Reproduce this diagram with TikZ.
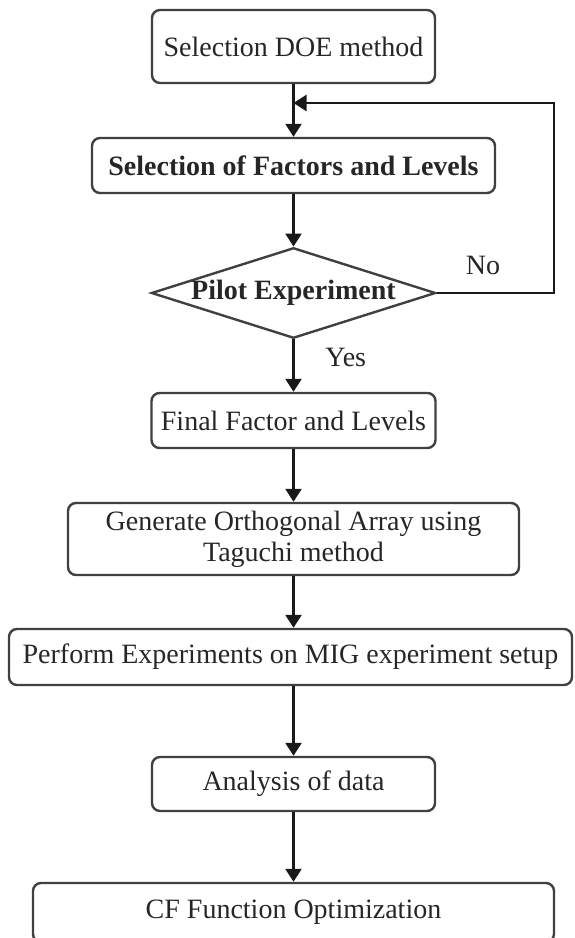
\documentclass[tikz,border=0pt]{standalone}
\usepackage{fontspec}
\setmainfont{Liberation Serif}
\usetikzlibrary{shapes.geometric,arrows.meta}
\begin{document}
\begin{tikzpicture}[x=0.5pt,y=-0.5pt,
            every node/.style={font=\fontsize{14}{15.5}\selectfont,text=black!85},
            stepbox/.style={draw=black!75,line width=1.2pt,rounded corners=4pt,align=center,inner sep=2pt},
            arr/.style={draw=black!90,line width=1.2pt,-{Triangle[width=8pt,length=6.5pt]}}]
            \useasboundingbox (0,0) rectangle (574,938);
            \node [stepbox,minimum width=141.5pt,minimum height=36.5pt] (doe) at (293.5,46.5) {Selection DOE method};
            \node [stepbox,minimum width=201.5pt,minimum height=27.5pt,font=\fontsize{14}{15.5}\selectfont\bfseries] (factors) at (293.5,165.5) {Selection of Factors and Levels};
            \node [diamond,draw=black!75,line width=1.2pt,aspect=3.14,inner sep=0pt,minimum width=141.5pt,minimum height=45pt,font=\fontsize{14}{15.5}\selectfont\bfseries] (pilot) at (293.5,293) {Pilot Experiment};
            \node [stepbox,minimum width=142pt,minimum height=27.5pt] (final) at (293.5,420.5) {Final Factor and Levels};
            \node [stepbox,minimum width=225.5pt,minimum height=36pt] (taguchi) at (293.5,539) {Generate Orthogonal Array using\\Taguchi method};
            \node [stepbox,minimum width=281.5pt,minimum height=28pt] (mig) at (290.5,657) {Perform Experiments on MIG experiment setup};
            \node [stepbox,minimum width=141.5pt,minimum height=27pt] (analysis) at (293.5,784) {Analysis of data};
            \node [stepbox,minimum width=260.5pt,minimum height=29.5pt] (cf) at (293.5,912.5) {CF Function Optimization};
            \coordinate (join) at (293.5,103);
            \coordinate (loop) at (554,103);
            \draw [arr] (doe) -- (factors);
            \draw [arr] (factors) -- (pilot);
            \draw [arr] (pilot.east) -| (loop) -- (join);
            \draw [arr] (pilot) -- (final) node [pos=0.35,right=12pt] {Yes};
            \draw [arr] (final) -- (taguchi);
            \draw [arr] (taguchi) -- (mig.north -| taguchi.south);
            \draw [arr] (mig.south -| analysis.north) -- (analysis);
            \draw [arr] (analysis) -- (cf);
            \node (no) at (483,265) {No};
\end{tikzpicture}
\end{document}
